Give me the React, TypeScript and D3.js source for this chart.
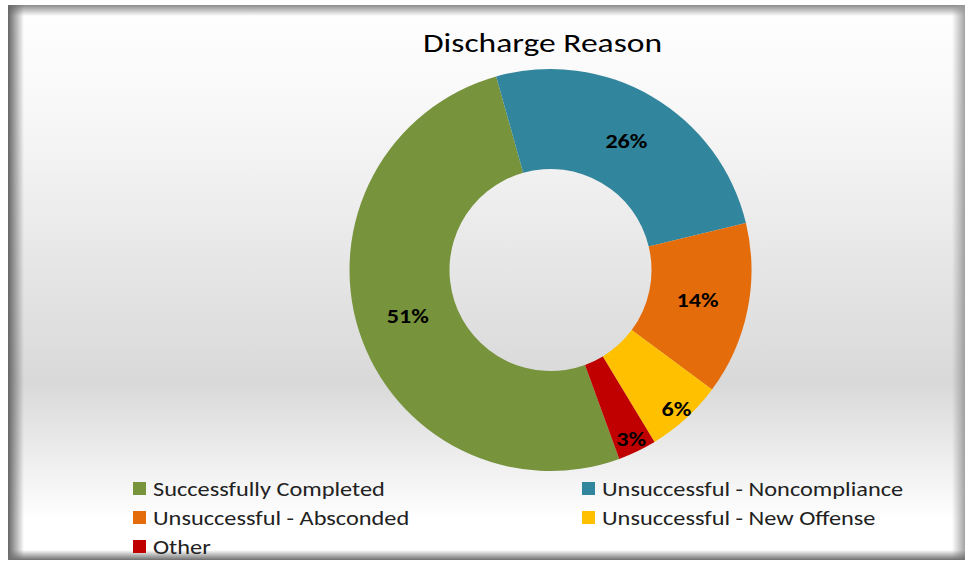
import React from "react";
import * as d3 from "d3";

const categories = [
  "Successfully Completed",
  "Unsuccessful - Noncompliance",
  "Unsuccessful - Absconded",
  "Unsuccessful - New Offense",
  "Other",
];
const values = [51.2, 25.6, 13.9, 6.2, 3.1];
const colors = ["#77933c", "#31859c", "#e46c0a", "#ffc000", "#c00000"];
const title = "Discharge Reason";

const W = 968;
const H = 565;
const FONT = "Carlito, Calibri, Lato, 'Open Sans', sans-serif";

export default function App() {
  const cx = 550.5;
  const cy = 270;
  const rOuter = 201;
  const rInner = 101;
  const start = (160 * Math.PI) / 180;

  const total = d3.sum(values);
  const pie = d3
    .pie<number>()
    .sort(null)
    .startAngle(start)
    .endAngle(start + 2 * Math.PI);
  const arcs = pie(values);
  const arc = d3.arc<d3.PieArcDatum<number>>().innerRadius(rInner).outerRadius(rOuter);

  const legendItems = categories.map((c, i) => ({
    name: c,
    color: colors[i],
    col: i % 2,
    row: Math.floor(i / 2),
  }));
  const colX = [133, 582];
  const rowY = [482, 511, 540];

  return (
    <svg
      width={W}
      height={H}
      style={{ position: "absolute", left: 0, top: 0, display: "block" }}
      fontFamily={FONT}
    >
      <defs>
        <linearGradient id="bg" x1="0" y1="0" x2="0" y2="1">
          <stop offset="0" stopColor="#ffffff" />
          <stop offset="0.2" stopColor="#f7f7f7" />
          <stop offset="0.68" stopColor="#d9d9d9" />
          <stop offset="0.93" stopColor="#ffffff" />
          <stop offset="1" stopColor="#ffffff" />
        </linearGradient>
        <linearGradient id="shTop" x1="0" y1="0" x2="0" y2="1">
          <stop offset="0" stopColor="#8a8a8a" stopOpacity="1" />
          <stop offset="1" stopColor="#8a8a8a" stopOpacity="0" />
        </linearGradient>
        <linearGradient id="shBottom" x1="0" y1="1" x2="0" y2="0">
          <stop offset="0" stopColor="#707070" stopOpacity="1" />
          <stop offset="1" stopColor="#707070" stopOpacity="0" />
        </linearGradient>
        <linearGradient id="shLeft" x1="0" y1="0" x2="1" y2="0">
          <stop offset="0" stopColor="#666" stopOpacity="1" />
          <stop offset="1" stopColor="#666" stopOpacity="0" />
        </linearGradient>
        <linearGradient id="shRight" x1="1" y1="0" x2="0" y2="0">
          <stop offset="0" stopColor="#999" stopOpacity="0.9" />
          <stop offset="1" stopColor="#999" stopOpacity="0" />
        </linearGradient>
      </defs>
      <rect x={0} y={0} width={W} height={H} fill="#ffffff" />
      <rect x={8} y={5} width={957} height={555} fill="url(#bg)" />
      <rect x={8} y={5} width={957} height={11} fill="url(#shTop)" />
      <rect x={8} y={5} width={16} height={555} fill="url(#shLeft)" />
      <rect x={952} y={5} width={13} height={555} fill="url(#shRight)" />
      <rect x={8} y={550} width={957} height={10} fill="url(#shBottom)" />

      <g transform="translate(542.5,52) scale(1.22,1)">
        <text x={0} y={0} textAnchor="middle" fontSize={27.5} fill="#000">
          {title}
        </text>
      </g>

      <g transform={`translate(${cx},${cy})`}>
        {arcs.map((a, i) => (
          <path key={i} d={arc(a) || ""} fill={colors[i]} />
        ))}
        {arcs.map((a, i) => {
          const frac = a.data / total;
          const mid = (a.startAngle + a.endAngle) / 2;
          const r = frac < 0.1 ? 187 : 150;
          const x = r * Math.sin(mid);
          const y = -r * Math.cos(mid);
          return (
            <g key={i} transform={`translate(${x},${y}) scale(1.15,1)`}>
              <text
                x={0}
                y={0}
                textAnchor="middle"
                dominantBaseline="central"
                fontSize={21}
                fontWeight="bold"
                fill="#000"
              >
                {`${Math.round(frac * 100)}%`}
              </text>
            </g>
          );
        })}
      </g>

      {legendItems.map((d, i) => (
        <g key={i} transform={`translate(${colX[d.col]},${rowY[d.row]})`}>
          <rect x={0} y={0} width={13} height={13} fill={d.color} />
          <g transform="translate(20,7) scale(1.16,1)">
            <text x={0} y={0} dominantBaseline="central" fontSize={21} fill="#222">
              {d.name}
            </text>
          </g>
        </g>
      ))}
    </svg>
  );
}
